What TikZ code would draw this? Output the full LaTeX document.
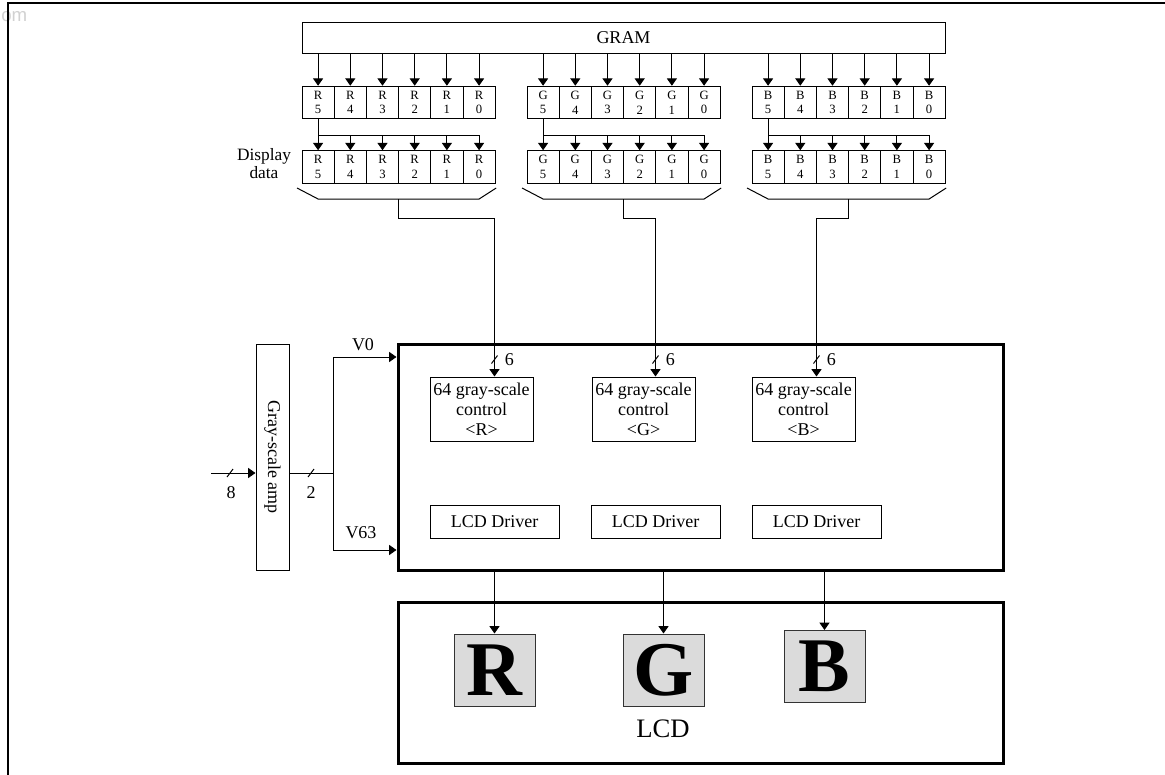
\documentclass[tikz,border=0pt]{standalone}
\usepackage{fontspec}
\setmainfont{Liberation Serif}
\newfontfamily\wmfont{Liberation Sans}
\usetikzlibrary{arrows.meta, math}
\newlength{\pxu}
\setlength{\pxu}{0.75pt}

\tikzset{
  arr/.style={-{Triangle[length=5.5pt,width=7.5pt]}, line width=0.75pt},
  thinline/.style={line width=0.75pt},
  lbl/.style={inner sep=0pt, font=\fontsize{13.5}{15}\selectfont},
  cell/.style={draw, line width=0.75pt, minimum width=32.2\pxu, minimum height=32.5\pxu,
    inner sep=0pt, align=center, font=\fontsize{9.5}{11}\selectfont},
  grambox/.style={draw, line width=0.75pt, minimum width=643\pxu, minimum height=31\pxu,
    inner sep=0pt, font=\fontsize{13.5}{15}\selectfont},
  corebox/.style={draw, line width=2.25pt, inner sep=0pt},
  ctlbox/.style={draw, line width=0.75pt, minimum width=103\pxu, minimum height=64\pxu,
    inner sep=0pt, align=center, font=\fontsize{13.5}{15}\selectfont},
  drvbox/.style={draw, line width=0.75pt, minimum width=129\pxu, minimum height=33\pxu,
    inner sep=0pt, font=\fontsize{13.5}{15}\selectfont},
  pixbox/.style={draw=black!80, line width=0.75pt, fill=black!14, minimum width=81\pxu,
    minimum height=72\pxu, inner sep=0pt, font=\fontsize{58}{60}\selectfont\bfseries},
  wm/.style={inner sep=0pt, text=black!18, font=\wmfont\fontsize{14}{14}\selectfont}
}

\begin{document}
\begin{tikzpicture}[x=\pxu, y=-\pxu]
\tikzmath{
\cw=32.2;
}
\useasboundingbox (0,0) rectangle (1165,775);

\node[wm, anchor=west] (mark) at (1,17) {om};
\draw[line width=1.9pt] (8,775) -- (8,3) -- (1165,3);

\node[grambox] (gram) at (623.5,37.5) {GRAM};

\foreach \c/\x in {R/302,G/527,B/752}{
  \foreach \b [count=\j from 0] in {5,...,0}{
    \node[cell] (top\c\b) at ({\x+\cw*(\j+0.5)},102.5) {\c\\\b};
    \node[cell] (dsp\c\b) at ({\x+\cw*(\j+0.5)},167) {\c\\\b};
    \draw[arr] (top\c\b |- gram.south) -- (top\c\b);
  }
  \coordinate (bus\c) at ({\x+\cw/2},135);
  \draw[thinline] (top\c5.south) -- (bus\c) -- (bus\c -| dsp\c0);
  \foreach \b in {5,...,0}
    \draw[arr] (bus\c -| dsp\c\b) -- (dsp\c\b);
  \draw[thinline] ({\x-5},188) -- ({\x+\cw/2},199) -- ({\x+5.5*\cw},199) -- ({\x+6*\cw+1},188);
  \coordinate (brk\c) at ({\x+3*\cw},199);
}

\node[lbl, align=center, font=\fontsize{13}{13.5}\selectfont] (dsplabel) at (264,164) {Display\\data};

\node[corebox, minimum width=605\pxu, minimum height=226\pxu] (core) at (700.5,457) {};
\node[corebox, minimum width=605\pxu, minimum height=161\pxu] (lcd) at (700.5,682.5) {};
\node[inner sep=0pt, font=\fontsize{20}{24}\selectfont] (lcdlabel) at (663,729) {LCD};

\foreach \c/\xc/\xd/\xl/\yl in {R/481.5/494.5/494.5/670, G/643.5/655.5/663.5/670, B/803.5/816.5/824.5/666.5}{
  \node[ctlbox] (ctl\c) at (\xc,409) {64 gray-scale\\control\\<\c>};
  \node[drvbox] (drv\c) at (\xd,521.5) {LCD Driver};
  \node[pixbox] (pix\c) at (\xl,\yl) {\c};
  \coordinate (in\c) at (ctl\c.north -| drv\c);
  \draw[arr] (brk\c) -- ++(0,19) -| (in\c);
  \draw[thinline] ([shift={(-3,-13)}]in\c) -- ++(6,-8);
  \node[lbl, anchor=west] (six\c) at ([shift={(10,-17)}]in\c) {6};
  \draw[arr] (pix\c.north |- core.south) -- (pix\c);
}

\node[draw, line width=0.75pt, minimum width=33\pxu, minimum height=226\pxu] (amp) at (272.5,457) {};
\node[lbl, rotate=-90] (amplabel) at (amp) {Gray-scale amp};
\coordinate (ampin) at (211,473);
\coordinate (split) at (333,473);
\coordinate (vtop) at (333,357);
\coordinate (vbot) at (333,550);
\draw[arr] (ampin) -- (ampin -| amp.west);
\draw[thinline] ([shift={(16,4)}]ampin) -- ++(6,-8);
\node[lbl] (eight) at (231,493) {8};
\draw[thinline] (ampin -| amp.east) -- (split);
\draw[thinline] ([shift={(-25,4)}]split) -- ++(6,-8);
\node[lbl] (two) at (311,493) {2};
\draw[arr] (split) -- (vtop) -- (vtop -| core.west);
\draw[arr] (split) -- (vbot) -- (vbot -| core.west);
\node[lbl] (vzero) at (363,345) {V0};
\node[lbl] (vsixtythree) at (361,533) {V63};

\end{tikzpicture}
\end{document}
